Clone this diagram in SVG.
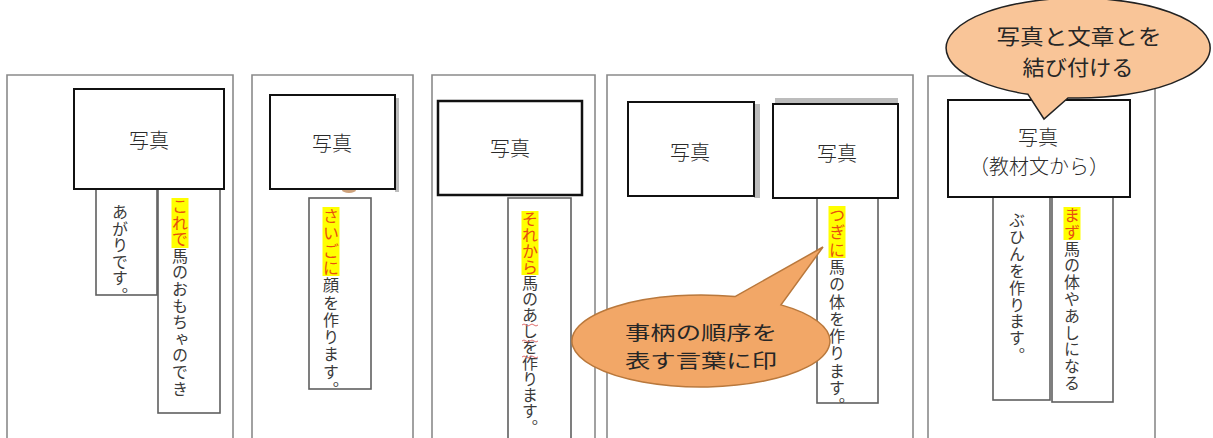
<svg xmlns="http://www.w3.org/2000/svg" width="1213" height="438" viewBox="0 0 1213 438">
<style>
.bg{fill:#ffffff}
.panel{fill:#ffffff;stroke:#8a8a8a;stroke-width:1.6}
.strip{fill:#ffffff;stroke:#5f5f5f;stroke-width:1.6}
.photo{fill:#ffffff;stroke:#111111;stroke-width:2}
.shadow{fill:#a6a6a6;opacity:0.75}
.ptxt{font-family:"Noto Sans CJK JP","Noto Sans CJK SC",sans-serif;font-size:20px;fill:#2a2a2a;text-anchor:middle;dominant-baseline:central;font-weight:300}
.vt{font-family:"Noto Sans CJK JP","Noto Sans CJK SC",sans-serif;font-size:16px;fill:#3a3a3a;writing-mode:vertical-rl}
.hl{fill:#ffff00}
.mark{fill:#e8500f}
.c1{fill:#f2a767;stroke:#b9783c;stroke-width:1.5}
.c2{fill:#f9c598;stroke:#222222;stroke-width:1.5}
.ctxt{font-family:"Noto Sans CJK JP","Noto Sans CJK SC",sans-serif;font-size:19px;fill:#262626;text-anchor:middle;dominant-baseline:central}
.wavy{fill:none;stroke:#e07070;stroke-width:1}
</style>
<rect class="bg" x="0" y="0" width="1213" height="438"/>

<g id="panel1">
<path class="panel" d="M7,445 V75 H233 V445"/>
<rect class="strip" x="96" y="186" width="61" height="109"/>
<text class="vt" x="120" y="204" style="letter-spacing:0.6px">あがりです。</text>
<rect class="strip" x="158" y="186" width="62" height="227"/>
<rect class="hl" x="171.5" y="198" width="17" height="50"/>
<text class="vt" x="180" y="198" style="letter-spacing:0.6px"><tspan class="mark">これで</tspan>馬のおもちゃのでき</text>
<rect class="photo" x="74" y="89" width="150" height="100"/>
<text class="ptxt" x="149" y="139">写真</text>
</g>

<g id="panel2">
<path class="panel" d="M252,445 V75 H413 V445"/>
<ellipse cx="349" cy="190" rx="7" ry="3" fill="#b87a45" opacity="0.7"/>
<rect class="strip" x="309" y="198" width="62" height="191"/>
<rect class="hl" x="322.5" y="207" width="17" height="69"/>
<text class="vt" x="331" y="208" style="letter-spacing:1.3px"><tspan class="mark">さいごに</tspan>顔を作ります。</text>
<rect class="shadow" x="395" y="98" width="4" height="94"/>
<rect class="photo" x="270" y="95" width="125" height="94"/>
<text class="ptxt" x="332" y="142">写真</text>
</g>

<g id="panel3">
<path class="panel" d="M432,445 V75 H595 V445"/>
<path class="strip" d="M508,445 V198 H571 V445"/>
<rect class="hl" x="521.5" y="211" width="17" height="64"/>
<text class="vt" x="530" y="211"><tspan class="mark">それから</tspan>馬のあしを作ります。</text>
<path class="wavy" d="M522,325 q2,-2 4,0 t4,0 t4,0 t4,0"/>
<path class="wavy" d="M522,341 q2,-2 4,0 t4,0 t4,0 t4,0"/>
<path class="wavy" d="M522,357 q2,-2 4,0 t4,0 t4,0 t4,0"/>
<rect class="photo" x="438" y="101" width="144" height="94" style="stroke-width:2.5"/>
<text class="ptxt" x="510" y="147">写真</text>
</g>

<g id="panel4">
<path class="panel" d="M607,445 V75 H913 V445"/>
<rect class="strip" x="817" y="198" width="61" height="205"/>
<rect class="hl" x="828.5" y="206" width="17" height="52"/>
<text class="vt" x="837" y="207" style="letter-spacing:1.3px"><tspan class="mark">つぎに</tspan>馬の体を作ります。</text>
<rect class="shadow" x="754" y="104" width="6" height="94"/>
<rect class="photo" x="628" y="102" width="126" height="94"/>
<text class="ptxt" x="690" y="151">写真</text>
<rect class="shadow" x="775" y="98" width="123" height="6"/>
<rect class="photo" x="773" y="104" width="125" height="94"/>
<text class="ptxt" x="837" y="152">写真</text>
</g>

<g id="panel5">
<path class="panel" d="M928,445 V76 H1155 V445"/>
<rect class="strip" x="993" y="194" width="57" height="206"/>
<text class="vt" x="1017" y="212" style="letter-spacing:0.9px">ぶひんを作ります。</text>
<rect class="strip" x="1052" y="194" width="61" height="208"/>
<rect class="hl" x="1063.5" y="207" width="17" height="33"/>
<text class="vt" x="1072" y="207" style="letter-spacing:0.8px"><tspan class="mark">まず</tspan>馬の体やあしになる</text>
<rect class="photo" x="948" y="100" width="182" height="97"/>
<text class="ptxt" x="1038" y="136">写真</text>
<text class="ptxt" x="1039" y="165">（教材文から）</text>
</g>

<g id="callout-order">
<path class="c1" d="M735,296.6 L823,247 L781,304.9 A129 46 0 1 1 735,296.6 Z"/>
<text class="ctxt" x="701" y="331" textLength="152" lengthAdjust="spacingAndGlyphs">事柄の順序を</text>
<text class="ctxt" x="701" y="359" textLength="152" lengthAdjust="spacingAndGlyphs">表す言葉に印</text>
</g>

<g id="callout-link">
<path class="c2" d="M1028,94.3 L1044,119 L1068,97.9 A132 50 0 1 0 1028,94.3 Z"/>
<text class="ctxt" x="1079" y="35" textLength="165" lengthAdjust="spacingAndGlyphs" style="font-size:21px">写真と文章とを</text>
<text class="ctxt" x="1078" y="66" textLength="111" lengthAdjust="spacingAndGlyphs" style="font-size:21px">結び付ける</text>
</g>
</svg>
